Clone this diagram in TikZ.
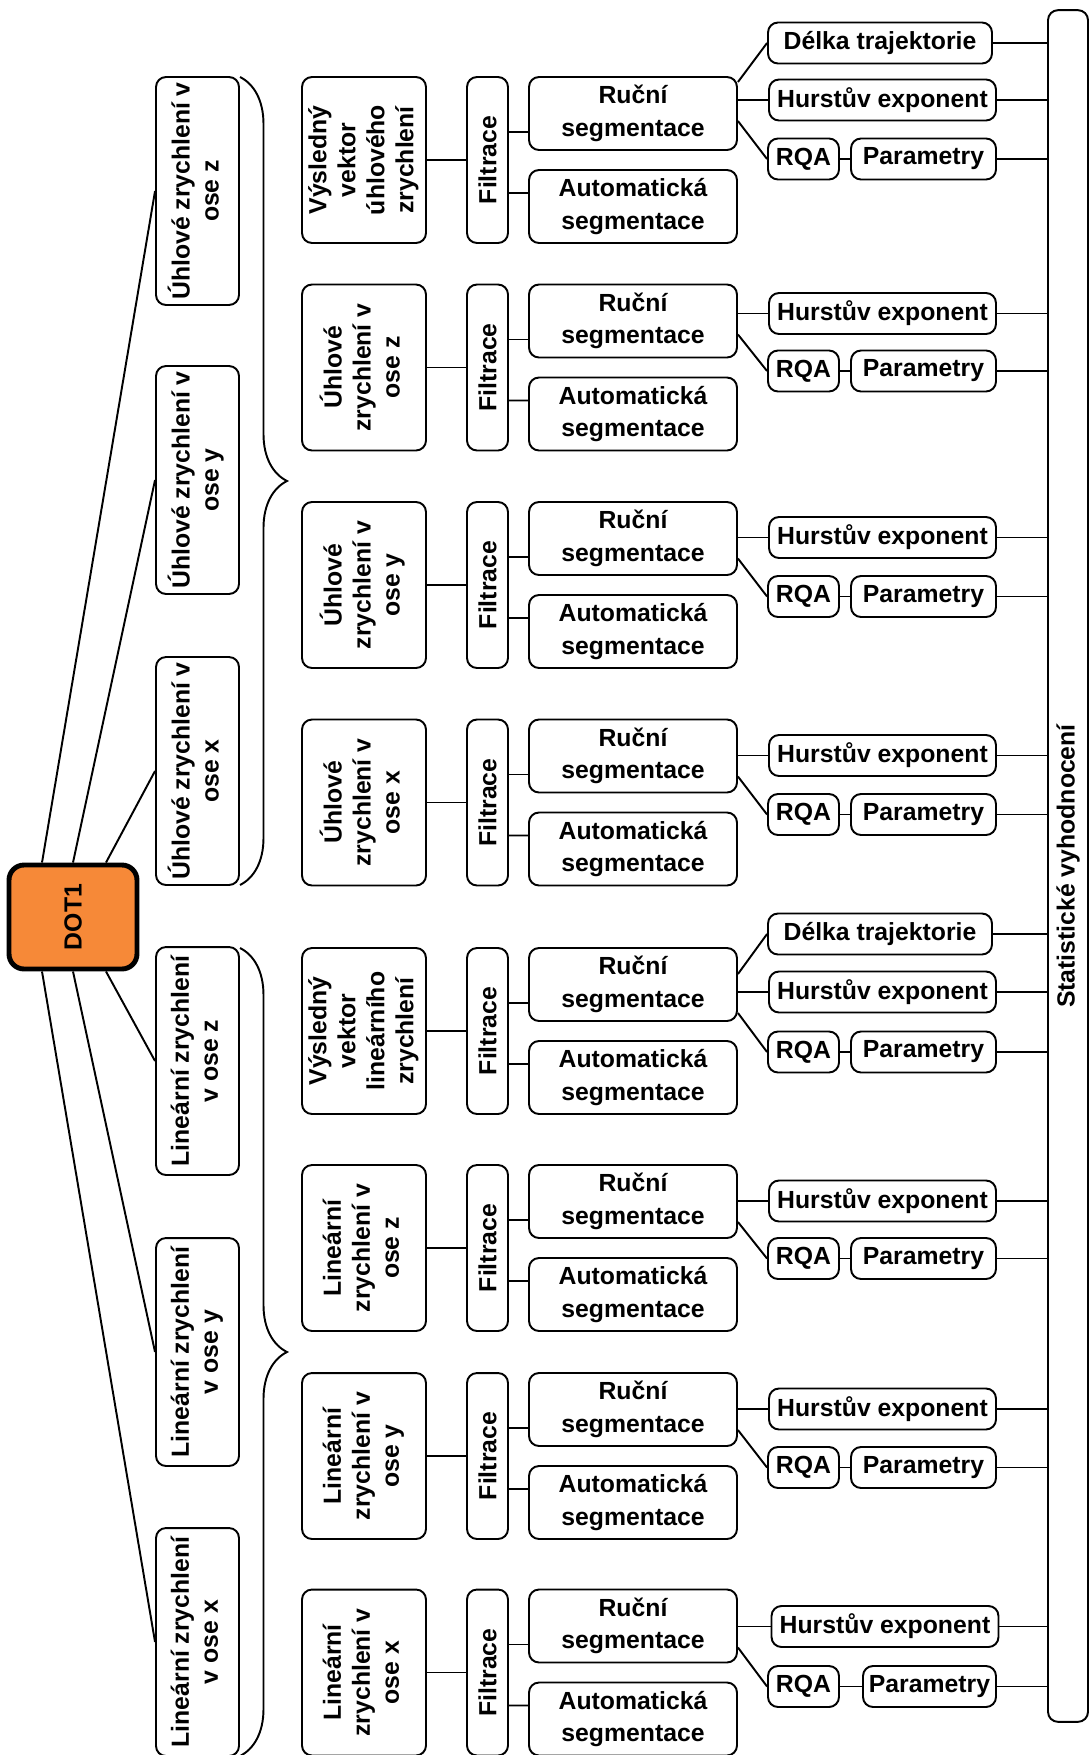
\documentclass[tikz,border=0pt]{standalone}
\usepackage{fontspec}
\setmainfont{Liberation Sans}
\usepackage{graphicx}
\usepackage{xcolor}
\usetikzlibrary{calc,decorations.pathreplacing}
\definecolor{dotorange}{RGB}{246,137,56}
\newcommand{\vtext}[1]{\rotatebox{90}{\begin{tabular}{@{}c@{}}#1\end{tabular}}}

\begin{document}
\begin{tikzpicture}[x=0.02cm,y=-0.02cm,
  box/.style={draw,line width=1.1pt,rounded corners=0.2cm,inner sep=1pt,align=center,
    font=\fontsize{14.1}{16.5}\selectfont\bfseries},
  root/.style={box,line width=2.8pt,rounded corners=0.3cm,fill=dotorange,
    minimum width=2.56cm,minimum height=2.08cm},
  col1/.style={box,minimum width=1.66cm,minimum height=4.56cm},
  sig/.style={box,minimum width=2.48cm,minimum height=3.32cm},
  filt/.style={box,minimum width=0.82cm,minimum height=3.32cm},
  seg/.style={box,minimum width=4.16cm,minimum height=1.46cm,
    font=\fontsize{14.1}{18.5}\selectfont\bfseries},
  res/.style={box,minimum height=0.82cm},
  hur/.style={res,minimum width=4.54cm},
  rqa/.style={res,minimum width=1.42cm},
  par/.style={res,minimum width=2.9cm},
  link/.style={line width=1.1pt},
  curly/.style={line width=1.1pt,decorate,decoration={brace,amplitude=0.94cm}}]
\useasboundingbox (0,0) rectangle (1089,1755);

% root and first column
\node[root] (dot) at (73,917) {\rotatebox{90}{DOT1}};
\node[col1] (u3) at (197.5,191) {\vtext{Úhlové zrychlení v\\ose z}};
\node[col1] (u2) at (197.5,480) {\vtext{Úhlové zrychlení v\\ose y}};
\node[col1] (u1) at (197.5,771) {\vtext{Úhlové zrychlení v\\ose x}};
\node[col1] (l3) at (197.5,1061) {\vtext{Lineární zrychlení\\v ose z}};
\node[col1] (l2) at (197.5,1352) {\vtext{Lineární zrychlení\\v ose y}};
\node[col1] (l1) at (197.5,1642) {\vtext{Lineární zrychlení\\v ose x}};
\draw[link] ([xshift=-0.62cm]dot.north) -- (u3.west);
\draw[link] (dot.north) -- (u2.west);
\draw[link] ([xshift=0.66cm]dot.north) -- (u1.west);
\draw[link] ([xshift=-0.62cm]dot.south) -- (l1.west);
\draw[link] (dot.south) -- (l2.west);
\draw[link] ([xshift=0.66cm]dot.south) -- (l3.west);
\draw[curly] (240,77) -- (240,885);
\draw[curly] (240,948) -- (240,1756);

% statistics
\node[box,minimum width=0.8cm,minimum height=34.24cm] (stat) at (1068,866) {\rotatebox{90}{Statistické vyhodnocení}};

% group 1
\node[sig] (sig1) at (364,160) {\vtext{Výsledný\\vektor\\úhlového\\zrychlení}};
\node[filt] (filt1) at (487.5,160) {\rotatebox{90}{Filtrace}};
\node[seg] (rucni1) at (633,113.5) {Ruční\\segmentace};
\node[seg] (auto1) at (633,206.5) {Automatická\\segmentace};
\node[res,minimum width=4.48cm] (delka1) at (880,43) {Délka trajektorie};
\node[hur] (hurst1) at (882.5,100) {Hurstův exponent};
\node[rqa] (rqa1) at (803.5,159) {RQA};
\node[par] (par1) at (923.5,159) {Parametry};
\draw[link] (sig1.east) -- (filt1.west);
\draw[link] ($(filt1.east)+(0,-28)$) -- ($(rucni1.west)+(0,18.5)$);
\draw[link] ($(filt1.east)+(0,33)$) -- ($(auto1.west)+(0,-13.5)$);
\draw[link] ($(rucni1.east |- hurst1.west)+(0,-18)$) -- (delka1.west);
\draw[link] (rucni1.east |- hurst1.west) -- (hurst1.west);
\draw[link] ($(rucni1.east |- hurst1.west)+(0,21)$) -- (rqa1.west);
\draw[link] (rqa1.east) -- (par1.west);
\draw[link] (delka1.east) -- (delka1.east -| stat.west);
\draw[link] (hurst1.east) -- (hurst1.east -| stat.west);
\draw[link] (par1.east) -- (par1.east -| stat.west);

% group 2
\node[sig] (sig2) at (364,367.5) {\vtext{Úhlové\\zrychlení v\\ose z}};
\node[filt] (filt2) at (487.5,367.5) {\rotatebox{90}{Filtrace}};
\node[seg] (rucni2) at (633,321) {Ruční\\segmentace};
\node[seg] (auto2) at (633,414) {Automatická\\segmentace};
\node[hur] (hurst2) at (882.5,313.5) {Hurstův exponent};
\node[rqa] (rqa2) at (803.5,371) {RQA};
\node[par] (par2) at (923.5,371) {Parametry};
\draw[link] (sig2.east) -- (filt2.west);
\draw[link] ($(filt2.east)+(0,-28)$) -- ($(rucni2.west)+(0,18.5)$);
\draw[link] ($(filt2.east)+(0,33)$) -- ($(auto2.west)+(0,-13.5)$);
\draw[link] (rucni2.east |- hurst2.west) -- (hurst2.west);
\draw[link] ($(rucni2.east |- hurst2.west)+(0,21)$) -- (rqa2.west);
\draw[link] (rqa2.east) -- (par2.west);
\draw[link] (hurst2.east) -- (hurst2.east -| stat.west);
\draw[link] (par2.east) -- (par2.east -| stat.west);

% group 3
\node[sig] (sig3) at (364,585) {\vtext{Úhlové\\zrychlení v\\ose y}};
\node[filt] (filt3) at (487.5,585) {\rotatebox{90}{Filtrace}};
\node[seg] (rucni3) at (633,538.5) {Ruční\\segmentace};
\node[seg] (auto3) at (633,631.5) {Automatická\\segmentace};
\node[hur] (hurst3) at (882.5,537.5) {Hurstův exponent};
\node[rqa] (rqa3) at (803.5,596.5) {RQA};
\node[par] (par3) at (923.5,596.5) {Parametry};
\draw[link] (sig3.east) -- (filt3.west);
\draw[link] ($(filt3.east)+(0,-28)$) -- ($(rucni3.west)+(0,18.5)$);
\draw[link] ($(filt3.east)+(0,33)$) -- ($(auto3.west)+(0,-13.5)$);
\draw[link] (rucni3.east |- hurst3.west) -- (hurst3.west);
\draw[link] ($(rucni3.east |- hurst3.west)+(0,21)$) -- (rqa3.west);
\draw[link] (rqa3.east) -- (par3.west);
\draw[link] (hurst3.east) -- (hurst3.east -| stat.west);
\draw[link] (par3.east) -- (par3.east -| stat.west);

% group 4
\node[sig] (sig4) at (364,802.5) {\vtext{Úhlové\\zrychlení v\\ose x}};
\node[filt] (filt4) at (487.5,802.5) {\rotatebox{90}{Filtrace}};
\node[seg] (rucni4) at (633,756) {Ruční\\segmentace};
\node[seg] (auto4) at (633,849) {Automatická\\segmentace};
\node[hur] (hurst4) at (882.5,755.5) {Hurstův exponent};
\node[rqa] (rqa4) at (803.5,814.5) {RQA};
\node[par] (par4) at (923.5,814.5) {Parametry};
\draw[link] (sig4.east) -- (filt4.west);
\draw[link] ($(filt4.east)+(0,-28)$) -- ($(rucni4.west)+(0,18.5)$);
\draw[link] ($(filt4.east)+(0,33)$) -- ($(auto4.west)+(0,-13.5)$);
\draw[link] (rucni4.east |- hurst4.west) -- (hurst4.west);
\draw[link] ($(rucni4.east |- hurst4.west)+(0,21)$) -- (rqa4.west);
\draw[link] (rqa4.east) -- (par4.west);
\draw[link] (hurst4.east) -- (hurst4.east -| stat.west);
\draw[link] (par4.east) -- (par4.east -| stat.west);

% group 5
\node[sig] (sig5) at (364,1031) {\vtext{Výsledný\\vektor\\lineárního\\zrychlení}};
\node[filt] (filt5) at (487.5,1031) {\rotatebox{90}{Filtrace}};
\node[seg] (rucni5) at (633,984.5) {Ruční\\segmentace};
\node[seg] (auto5) at (633,1077.5) {Automatická\\segmentace};
\node[res,minimum width=4.48cm] (delka5) at (880,934) {Délka trajektorie};
\node[hur] (hurst5) at (882.5,992) {Hurstův exponent};
\node[rqa] (rqa5) at (803.5,1052) {RQA};
\node[par] (par5) at (923.5,1052) {Parametry};
\draw[link] (sig5.east) -- (filt5.west);
\draw[link] ($(filt5.east)+(0,-28)$) -- ($(rucni5.west)+(0,18.5)$);
\draw[link] ($(filt5.east)+(0,33)$) -- ($(auto5.west)+(0,-13.5)$);
\draw[link] ($(rucni5.east |- hurst5.west)+(0,-18)$) -- (delka5.west);
\draw[link] (rucni5.east |- hurst5.west) -- (hurst5.west);
\draw[link] ($(rucni5.east |- hurst5.west)+(0,21)$) -- (rqa5.west);
\draw[link] (rqa5.east) -- (par5.west);
\draw[link] (delka5.east) -- (delka5.east -| stat.west);
\draw[link] (hurst5.east) -- (hurst5.east -| stat.west);
\draw[link] (par5.east) -- (par5.east -| stat.west);

% group 6
\node[sig] (sig6) at (364,1248) {\vtext{Lineární\\zrychlení v\\ose z}};
\node[filt] (filt6) at (487.5,1248) {\rotatebox{90}{Filtrace}};
\node[seg] (rucni6) at (633,1201.5) {Ruční\\segmentace};
\node[seg] (auto6) at (633,1294.5) {Automatická\\segmentace};
\node[hur] (hurst6) at (882.5,1201) {Hurstův exponent};
\node[rqa] (rqa6) at (803.5,1258.5) {RQA};
\node[par] (par6) at (923.5,1258.5) {Parametry};
\draw[link] (sig6.east) -- (filt6.west);
\draw[link] ($(filt6.east)+(0,-28)$) -- ($(rucni6.west)+(0,18.5)$);
\draw[link] ($(filt6.east)+(0,33)$) -- ($(auto6.west)+(0,-13.5)$);
\draw[link] (rucni6.east |- hurst6.west) -- (hurst6.west);
\draw[link] ($(rucni6.east |- hurst6.west)+(0,21)$) -- (rqa6.west);
\draw[link] (rqa6.east) -- (par6.west);
\draw[link] (hurst6.east) -- (hurst6.east -| stat.west);
\draw[link] (par6.east) -- (par6.east -| stat.west);

% group 7
\node[sig] (sig7) at (364,1456) {\vtext{Lineární\\zrychlení v\\ose y}};
\node[filt] (filt7) at (487.5,1456) {\rotatebox{90}{Filtrace}};
\node[seg] (rucni7) at (633,1409.5) {Ruční\\segmentace};
\node[seg] (auto7) at (633,1502.5) {Automatická\\segmentace};
\node[hur] (hurst7) at (882.5,1409) {Hurstův exponent};
\node[rqa] (rqa7) at (803.5,1467.5) {RQA};
\node[par] (par7) at (923.5,1467.5) {Parametry};
\draw[link] (sig7.east) -- (filt7.west);
\draw[link] ($(filt7.east)+(0,-28)$) -- ($(rucni7.west)+(0,18.5)$);
\draw[link] ($(filt7.east)+(0,33)$) -- ($(auto7.west)+(0,-13.5)$);
\draw[link] (rucni7.east |- hurst7.west) -- (hurst7.west);
\draw[link] ($(rucni7.east |- hurst7.west)+(0,21)$) -- (rqa7.west);
\draw[link] (rqa7.east) -- (par7.west);
\draw[link] (hurst7.east) -- (hurst7.east -| stat.west);
\draw[link] (par7.east) -- (par7.east -| stat.west);

% group 8
\node[sig] (sig8) at (364,1672.5) {\vtext{Lineární\\zrychlení v\\ose x}};
\node[filt] (filt8) at (487.5,1672.5) {\rotatebox{90}{Filtrace}};
\node[seg] (rucni8) at (633,1626) {Ruční\\segmentace};
\node[seg] (auto8) at (633,1719) {Automatická\\segmentace};
\node[hur] (hurst8) at (885,1626.5) {Hurstův exponent};
\node[rqa] (rqa8) at (803.5,1686.5) {RQA};
\node[par,minimum width=2.66cm] (par8) at (929.5,1686.5) {Parametry};
\draw[link] (sig8.east) -- (filt8.west);
\draw[link] ($(filt8.east)+(0,-28)$) -- ($(rucni8.west)+(0,18.5)$);
\draw[link] ($(filt8.east)+(0,33)$) -- ($(auto8.west)+(0,-13.5)$);
\draw[link] (rucni8.east |- hurst8.west) -- (hurst8.west);
\draw[link] ($(rucni8.east |- hurst8.west)+(0,21)$) -- (rqa8.west);
\draw[link] (rqa8.east) -- (par8.west);
\draw[link] (hurst8.east) -- (hurst8.east -| stat.west);
\draw[link] (par8.east) -- (par8.east -| stat.west);
\end{tikzpicture}
\end{document}
